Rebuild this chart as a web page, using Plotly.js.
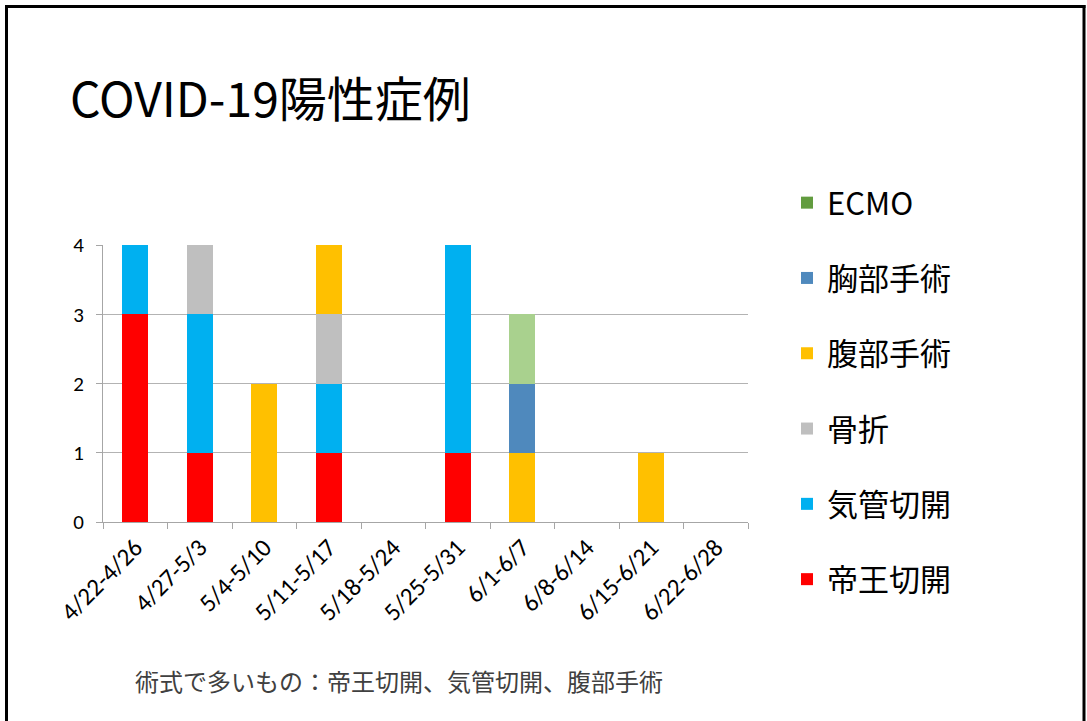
<!DOCTYPE html>
<html>
<head>
<meta charset="utf-8">
<script src="https://cdn.plot.ly/plotly-3.0.1.min.js"></script>
<style>
html,body{margin:0;padding:0;background:#fff;}
#chart{width:1087px;height:721px;}
</style>
</head>
<body>
<div id="chart"></div>
<script>
const categories = ["4/22-4/26","4/27-5/3","5/4-5/10","5/11-5/17","5/18-5/24","5/25-5/31","6/1-6/7","6/8-6/14","6/15-6/21","6/22-6/28"];
const seriesNames = ["帝王切開","気管切開","骨折","腹部手術","胸部手術","ECMO"];
const teiouSekkai   = [3,1,0,1,0,1,0,0,0,0];
const kikanSekkai   = [1,2,0,1,0,3,0,0,0,0];
const kossetsu      = [0,1,0,1,0,0,0,0,0,0];
const fukubuShujutsu= [0,0,2,1,0,0,1,0,1,0];
const kyoubuShujutsu= [0,0,0,0,0,0,1,0,0,0];
const ecmo          = [0,0,0,0,0,0,1,0,0,0];
const seriesValues = [teiouSekkai,kikanSekkai,kossetsu,fukubuShujutsu,kyoubuShujutsu,ecmo];
const barColors = ["#FF0000","#00B0F0","#BFBFBF","#FFC000","#4F89BD","#A9D18E"];
const legendColors = ["#FF0000","#00B0F0","#BFBFBF","#FFC000","#4F89BD","#629C3F"];
const titleText = "COVID-19陽性症例";
const noteText = "術式で多いもの：帝王切開、気管切開、腹部手術";

// plot-area geometry (pixels)
const L = 103, R = 748, T = 245, B = 522, W = 1087, H = 721;
const px = v => (v - L) / (R - L);
const py = v => (B - v) / (B - T);

const traces = [];
seriesNames.forEach((name, i) => {
  const same = barColors[i] === legendColors[i];
  traces.push({
    type: "bar", name: name, x: categories, y: seriesValues[i],
    marker: {color: barColors[i], line: {width: 0}},
    showlegend: same, legendgroup: "g" + i, legendrank: 100 - i,
    hoverinfo: "x+y+name"
  });
  if (!same) {
    // legend-only entry carrying the legend swatch colour (zero-height bar)
    traces.push({
      type: "bar", name: name, x: [categories[0]], y: [0],
      marker: {color: legendColors[i], line: {width: 0}},
      showlegend: true, legendgroup: "g" + i, legendrank: 100 - i, hoverinfo: "skip"
    });
  }
});

const font = "'Noto Sans CJK JP', 'Noto Sans', sans-serif";
const tickFontFamily = "Carlito, 'Open Sans', sans-serif";
const layout = {
  width: W, height: H,
  margin: {l: L, r: W - R, t: T, b: H - B, pad: 0},
  paper_bgcolor: "#ffffff", plot_bgcolor: "#ffffff",
  barmode: "stack", bargap: 0.6,
  font: {family: font, color: "#000"},
  title: {text: titleText, font: {family: font, size: 48, color: "#000"},
          xref: "container", yref: "container", x: 70 / W, xanchor: "left",
          y: 1 - 100 / H, yanchor: "middle"},
  xaxis: {type: "category", tickson: "boundaries", ticks: "outside", ticklen: 6,
          tickcolor: "#A6A6A6", showline: true, linecolor: "#A6A6A6", linewidth: 1,
          showgrid: false, tickangle: -45, tickfont: {family: tickFontFamily, size: 25, color: "#000"},
          fixedrange: true},
  yaxis: {range: [0, 4], dtick: 1, ticks: "outside", ticklen: 6, tickcolor: "#A6A6A6",
          showline: true, linecolor: "#A6A6A6", linewidth: 1,
          gridcolor: "#B3B3B3", gridwidth: 1, zeroline: false,
          tickfont: {family: tickFontFamily, size: 21, color: "#000"},
          ticklabelstandoff: 8, fixedrange: true},
  legend: {x: px(787), xanchor: "left", y: py(176), yanchor: "top",
           traceorder: "grouped", tracegroupgap: 32, maxheight: 700,
           font: {family: font, size: 31, color: "#000"}, bgcolor: "rgba(0,0,0,0)"},
  annotations: [{text: noteText, xref: "paper", yref: "paper", x: px(133), y: py(680),
                 xanchor: "left", yanchor: "middle", showarrow: false,
                 font: {family: font, size: 24, color: "#404040"}}],
  shapes: [
    {type: "line", xref: "paper", yref: "paper", x0: px(6.5), x1: px(6.5), y0: py(5), y1: py(730), line: {color: "#000", width: 3}},
    {type: "line", xref: "paper", yref: "paper", x0: px(5), x1: px(1085.5), y0: py(6.5), y1: py(6.5), line: {color: "#000", width: 3}},
    {type: "line", xref: "paper", yref: "paper", x0: px(1084), x1: px(1084), y0: py(5), y1: py(730), line: {color: "#000", width: 3}}
  ]
};
Plotly.newPlot("chart", traces, layout, {displayModeBar: false, staticPlot: true});
</script>
</body>
</html>
